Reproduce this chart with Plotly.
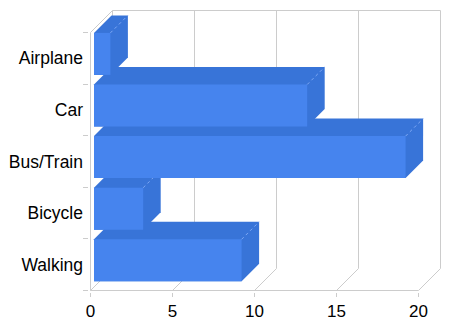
import plotly.graph_objects as go

# ---- data ----
categories = ["Airplane", "Car", "Bus/Train", "Bicycle", "Walking"]
values = [1, 13, 19, 3, 9]
x_ticks = [0, 5, 10, 15, 20]

# ---- style / geometry constants (pixels) ----
FIG_W, FIG_H = 450, 320
M_L, M_R, M_T, M_B = 89, 8, 9, 28
PAD = 1.5            # keeps edge lines inside the plot area
DEPTH = 22           # 3D depth of the chart box
BAR_OFF = 3.5        # bar front face set back from the front plane
BAR_DEPTH = 17.5     # depth of each bar
BAR_TOP_GAP = 0.4
BAR_H = 42
FRONT = "#4684EE"
SIDE = "#3874D8"
EDGE = "#7FA9F5"
GRID = "#CCCCCC"
FONT = dict(family="Arial, Liberation Sans, sans-serif", size=17, color="#000000")
YFONT = dict(family="Arial, Liberation Sans, sans-serif", size=17.5, color="#000000")

plot_w = FIG_W - M_L - M_R
plot_h = FIG_H - M_T - M_B
xmax = max(x_ticks)
ncat = len(categories)
sx = (plot_w - 2 * PAD - DEPTH) / xmax
sy = (plot_h - 2 * PAD - DEPTH) / ncat
dxw, dyw = DEPTH / sx, DEPTH / sy
centers = [ncat - 0.5 - i for i in range(ncat)]

fig = go.Figure()

# draw bars from bottom to top so upper bars overlap the lower bars' top faces
for i in reversed(range(ncat)):
    v = values[i]
    yc = centers[i]
    yt = yc + 0.5 - BAR_TOP_GAP / sy
    yb = yt - BAR_H / sy
    xl = BAR_OFF / sx
    xr = xl + v
    ddx, ddy = BAR_DEPTH / sx, BAR_DEPTH / sy
    fig.add_trace(go.Scatter(
        x=[xl, xl + ddx, xr + ddx, xr + ddx, xr, xl, xl],
        y=[yt, yt + ddy, yt + ddy, yb + ddy, yb, yb, yt],
        mode="lines", fill="toself", fillcolor=SIDE,
        line=dict(width=0, color=SIDE), hoverinfo="skip", showlegend=False))
    fig.add_trace(go.Scatter(
        x=[xl, xr, xr, xl, xl],
        y=[yb, yb, yt, yt, yb],
        mode="lines", fill="toself", fillcolor=FRONT,
        line=dict(width=0, color=FRONT), name=categories[i],
        hoverinfo="name", showlegend=False))
    fig.add_trace(go.Scatter(
        x=[xr, xr + ddx], y=[yt, yt + ddy], mode="lines",
        line=dict(width=1, color=EDGE, dash="dot"),
        hoverinfo="skip", showlegend=False))

# chart box / gridlines
shapes = []
def seg(x0, y0, x1, y1):
    shapes.append(dict(type="line", xref="x", yref="y", x0=x0, y0=y0, x1=x1, y1=y1,
                       line=dict(color=GRID, width=1), layer="below"))

seg(0, 0, 0, ncat)                       # front left axis
seg(0, 0, xmax, 0)                       # front bottom axis
seg(0, ncat, dxw, ncat + dyw)            # top-left diagonal
seg(dxw, ncat + dyw, xmax + dxw, ncat + dyw)  # back top edge
for t in x_ticks:
    seg(t, 0, t + dxw, dyw)              # floor diagonals
    seg(t + dxw, dyw, t + dxw, ncat + dyw)  # back wall gridlines

fig.update_layout(
    width=FIG_W, height=FIG_H,
    margin=dict(l=M_L, r=M_R, t=M_T, b=M_B, pad=0, autoexpand=False),
    paper_bgcolor="white", plot_bgcolor="white",
    font=FONT, shapes=shapes, showlegend=False,
)
fig.update_xaxes(
    range=[-PAD / sx, xmax + (DEPTH + PAD) / sx],
    tickvals=x_ticks, ticktext=[str(t) for t in x_ticks],
    ticks="outside", ticklen=4, tickcolor=GRID, automargin=False,
    showgrid=False, zeroline=False, showline=False, fixedrange=True,
    tickfont=FONT,
)
fig.update_yaxes(
    range=[-PAD / sy, ncat + (DEPTH + PAD) / sy],
    tickvals=centers, ticktext=categories, ticks="", automargin=False,
    minor=dict(tickvals=list(range(ncat + 1)), ticks="outside", ticklen=5,
               tickcolor=GRID, showgrid=False),
    showgrid=False, zeroline=False, showline=False, fixedrange=True,
    tickfont=YFONT, ticklabelstandoff=5,
)

fig.write_html("out.html")
